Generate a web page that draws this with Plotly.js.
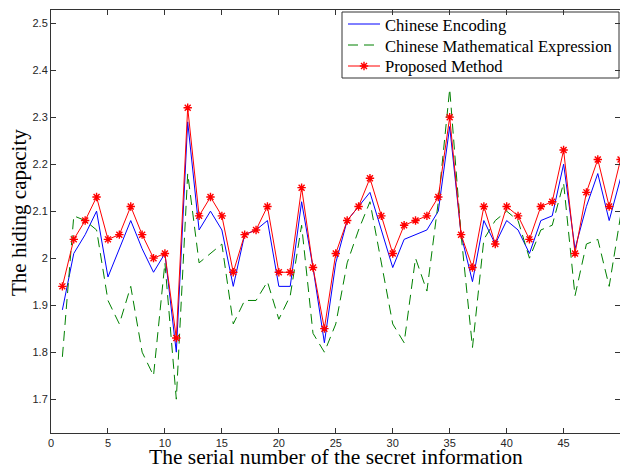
<!DOCTYPE html>
<html>
<head>
<meta charset="utf-8">
<script src="https://cdn.plot.ly/plotly-3.0.1.min.js"></script>
<style>html,body{margin:0;padding:0;background:#fff;}#chart{width:620px;height:468px;}</style>
</head>
<body>
<div id="chart"></div>
<script>
var serial = [1,2,3,4,5,6,7,8,9,10,11,12,13,14,15,16,17,18,19,20,21,22,23,24,25,26,27,28,29,30,31,32,33,34,35,36,37,38,39,40,41,42,43,44,45,46,47,48,49,50];
var chineseEncoding = [1.89,2.01,2.05,2.10,1.96,2.02,2.08,2.02,1.97,2.01,1.80,2.29,2.06,2.10,2.06,1.94,2.05,2.06,2.08,1.94,1.94,2.12,1.98,1.82,1.99,2.08,2.11,2.14,2.06,1.98,2.04,2.05,2.06,2.10,2.28,2.05,1.95,2.08,2.03,2.08,2.06,2.01,2.08,2.09,2.20,2.02,2.11,2.18,2.08,2.17];
var chineseMath = [1.79,2.09,2.08,2.06,1.91,1.86,1.94,1.80,1.75,1.99,1.70,2.18,1.99,2.01,2.03,1.86,1.91,1.91,1.95,1.87,1.92,2.07,1.84,1.80,1.86,1.99,2.06,2.12,1.99,1.86,1.82,2.00,1.93,2.12,2.36,2.05,1.81,2.04,2.08,2.10,2.08,2.00,2.06,2.07,2.16,1.92,2.03,2.04,1.94,2.09];
var proposed = [1.94,2.04,2.08,2.13,2.04,2.05,2.11,2.05,2.00,2.01,1.83,2.32,2.09,2.13,2.09,1.97,2.05,2.06,2.11,1.97,1.97,2.15,1.98,1.85,2.01,2.08,2.11,2.17,2.09,2.01,2.07,2.08,2.09,2.13,2.30,2.05,1.98,2.11,2.03,2.11,2.09,2.04,2.11,2.12,2.23,2.01,2.14,2.21,2.11,2.21];
var names = ["Chinese Encoding","Chinese Mathematical Expression","Proposed Method"];
var xTicks = [0,5,10,15,20,25,30,35,40,45];
var yTicks = [1.7,1.8,1.9,2.0,2.1,2.2,2.3,2.4,2.5];
var xTitle = "The serial number of the secret information";
var yTitle = "The hiding capacity";

// figure geometry (pixels)
var W = 620, H = 468, ML = 51, MR = 0, MT = 10, MB = 35;
var PW = W - ML - MR, PH = H - MT - MB;
var XR = [0, 49.95], YR = [1.628, 2.528];
function px(x){ return (x - ML) / PW; }
function py(y){ return (H - MB - y) / PH; }
function dataX(x){ return XR[0] + px(x) * (XR[1] - XR[0]); }
function dataY(y){ return YR[0] + py(y) * (YR[1] - YR[0]); }

var colors = ["#0000ff", "#008000", "#ff0000"];
var dashes = ["solid", "10px,6px", "solid"];
var starMarker = {symbol: "asterisk-open", size: 7, color: colors[2], line: {color: colors[2], width: 1.4}};

var traces = [
  {x: serial, y: chineseEncoding, name: names[0], mode: "lines", type: "scatter",
   line: {color: colors[0], width: 1}},
  {x: serial, y: chineseMath, name: names[1], mode: "lines", type: "scatter",
   line: {color: colors[1], width: 1, dash: dashes[1]}},
  {x: serial, y: proposed, name: names[2], mode: "lines+markers", type: "scatter",
   line: {color: colors[2], width: 1}, marker: starMarker}
];

// legend (drawn manually to match the compact MATLAB-style legend)
var legBox = {x0: 342, x1: 619, y0: 12, y1: 78};
var rowY = [24, 45, 66];
var sampleX = [348, 380];
var textX = 383;
var shapes = [{type: "rect", xref: "paper", yref: "paper",
  x0: px(legBox.x0), x1: px(legBox.x1), y0: py(legBox.y1), y1: py(legBox.y0),
  fillcolor: "#fff", line: {color: "#333", width: 1}, layer: "below"}];
var annotations = [];
for (var i = 0; i < 3; i++) {
  shapes.push({type: "line", xref: "paper", yref: "paper",
    x0: px(sampleX[0]), x1: px(sampleX[1]), y0: py(rowY[i]), y1: py(rowY[i]),
    line: {color: colors[i], width: 1, dash: dashes[i]}, layer: "below"});
  annotations.push({xref: "paper", yref: "paper", x: px(textX), y: py(rowY[i] + 1),
    xanchor: "left", yanchor: "middle", showarrow: false, text: names[i],
    font: {family: "Liberation Serif, Times New Roman, serif", size: 16.6, color: "#000"}});
}
// legend marker sample for "Proposed Method"
traces.push({x: [dataX((sampleX[0] + sampleX[1]) / 2)], y: [dataY(rowY[2])],
  mode: "markers", type: "scatter", showlegend: false, hoverinfo: "skip",
  marker: starMarker});

annotations.push({xref: "paper", yref: "paper", x: px(335.5), y: py(457.5), xanchor: "center", yanchor: "middle",
  showarrow: false, text: xTitle, font: {family: "Liberation Serif, Times New Roman, serif", size: 21.5, color: "#000"}});
annotations.push({xref: "paper", yref: "paper", x: px(19), y: py(213), xanchor: "center", yanchor: "middle",
  showarrow: false, textangle: -90, text: yTitle, font: {family: "Liberation Serif, Times New Roman, serif", size: 21, color: "#000"}});

var axisCommon = {
  showgrid: false, zeroline: false, showline: true, linecolor: "#333", linewidth: 1,
  mirror: "ticks", ticks: "inside", ticklen: 5, tickcolor: "#333", tickwidth: 1,
  tickfont: {family: "Liberation Sans, Arial, sans-serif", size: 11, color: "#262626"}
};

var layout = {
  width: W, height: H,
  margin: {l: ML, r: MR, t: MT, b: MB},
  paper_bgcolor: "#fff", plot_bgcolor: "#fff",
  showlegend: false,
  xaxis: Object.assign({}, axisCommon, {
    range: XR, tickvals: xTicks, ticktext: xTicks.map(String)
  }),
  yaxis: Object.assign({}, axisCommon, {
    range: YR, tickvals: yTicks, ticktext: yTicks.map(function(v){return String(v);})
  }),
  shapes: shapes,
  annotations: annotations
};

Plotly.newPlot("chart", traces, layout, {displayModeBar: false, staticPlot: true});
</script>
</body>
</html>
